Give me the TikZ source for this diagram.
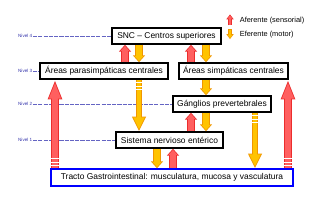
\documentclass[tikz,border=0pt]{standalone}
\usepackage{fontspec}
\setmainfont{Liberation Sans}
\usetikzlibrary{arrows.meta}
\definecolor{rojoF}{RGB}{255,95,95}
\definecolor{rojoL}{RGB}{235,45,45}
\definecolor{naraF}{RGB}{255,195,0}
\definecolor{naraL}{RGB}{240,150,0}
\definecolor{nivcol}{RGB}{50,50,170}
\definecolor{nivlin}{RGB}{100,100,195}

\tikzset{
  caja/.style={draw, line width=2pt, minimum height=0.8cm, inner sep=2pt, font=\fontsize{12}{14}\selectfont},
  nivel/.style={text=nivcol, font=\fontsize{6.5}{7}\selectfont, anchor=east, inner sep=1pt},
  nivlinea/.style={draw=nivlin, line width=0.8pt, dash pattern=on 6pt off 1.5pt},
  leyenda/.style={anchor=west, inner sep=1pt, font=\fontsize{10.5}{12}\selectfont},
  franja/.style={white, line width=0.9pt},
  % flechas de bloque: contorno (preaction) + relleno
  afs/.style={draw=rojoF, line width=7.8pt, -{Triangle[width=12.2pt,length=7.2pt]}, shorten >=1.7pt, shorten <=1.1pt,
    preaction={draw=rojoL, line width=10pt, -{Triangle[width=17pt,length=10pt]}, shorten >=0pt, shorten <=0pt}},
  efs/.style={draw=naraF, line width=7.8pt, -{Triangle[width=12.2pt,length=7.2pt]}, shorten >=1.7pt, shorten <=1.1pt,
    preaction={draw=naraL, line width=10pt, -{Triangle[width=17pt,length=10pt]}, shorten >=0pt, shorten <=0pt}},
  afl/.style={draw=rojoF, line width=7.8pt, -{Triangle[width=15.5pt,length=23.4pt]}, shorten >=3.5pt, shorten <=1.1pt,
    preaction={draw=rojoL, line width=10pt, -{Triangle[width=18.5pt,length=28pt]}, shorten >=0pt, shorten <=0pt}},
  efl/.style={draw=naraF, line width=6.3pt, -{Triangle[width=15.1pt,length=17.2pt]}, shorten >=2.7pt, shorten <=1.1pt,
    preaction={draw=naraL, line width=8.5pt, -{Triangle[width=18.5pt,length=21pt]}, shorten >=0pt, shorten <=0pt}},
  afx/.style={draw=rojoF, line width=4.2pt, -{Triangle[width=6.5pt,length=4.5pt]}, shorten >=1.5pt, shorten <=0.9pt,
    preaction={draw=rojoL, line width=6pt, -{Triangle[width=10pt,length=7pt]}, shorten >=0pt, shorten <=0pt}},
  efx/.style={draw=naraF, line width=4.2pt, -{Triangle[width=6.5pt,length=4.5pt]}, shorten >=1.5pt, shorten <=0.9pt,
    preaction={draw=naraL, line width=6pt, -{Triangle[width=10pt,length=7pt]}, shorten >=0pt, shorten <=0pt}},
}

\begin{document}
\begin{tikzpicture}
\useasboundingbox (0,0) rectangle (16,10);
% --- cajas ---
\node[caja, minimum width=5.45cm] (snc) at (8.325,8.2) {SNC -- Centros superiores};
\node[caja, minimum width=6.4cm] (para) at (5.2,6.45) {Áreas parasimpáticas centrales};
\node[caja, minimum width=5.45cm] (simp) at (11.675,6.45) {Áreas simpáticas centrales};
\node[caja, minimum width=4.9cm] (gang) at (11.1,4.8) {Gánglios prevertebrales};
\node[caja, minimum width=5.35cm] (ent) at (8.475,3.0) {Sistema nervioso entérico};
\node[caja, draw=blue, minimum width=12.1cm, minimum height=0.85cm] (tracto) at (8.6,1.125) {Tracto Gastrointestinal: musculatura, mucosa y vasculatura};
% --- niveles ---
\node[nivel] (n4) at (1.65,8.2) {Nivel 4};
\node[nivel] (n3) at (1.65,6.45) {Nivel 3};
\node[nivel] (n2) at (1.65,4.8) {Nivel 2};
\node[nivel] (n1) at (1.65,3.0) {Nivel 1};
\draw[nivlinea] (n4.east) -- (snc.west);
\draw[nivlinea] (n3.east) -- (para.west);
\draw[nivlinea] (n2.east) -- (gang.west);
\draw[nivlinea] (n1.east) -- (ent.west);
% --- leyenda ---
\node[leyenda] (la) at (11.95,8.95) {Aferente (sensorial)};
\node[leyenda] (le) at (11.95,8.275) {Eferente (motor)};
\draw[afx] ([shift={(-0.45,-0.22)}]la.west) -- ++(0,0.55);
\draw[efx] ([shift={(-0.45,0.27)}]le.west) -- ++(0,-0.5);
% --- columnas de flechas ---
\coordinate (xa) at (2.75,0);
\coordinate (xb) at (6.25,0);
\coordinate (xc) at (6.95,0);
\coordinate (xd) at (7.85,0);
\coordinate (xe) at (8.65,0);
\coordinate (xf) at (9.55,0);
\coordinate (xg) at (10.3,0);
\coordinate (xh) at (12.75,0);
\coordinate (xi) at (14.4,0);
\path (tracto.north -| xa) coordinate (ta) (tracto.north -| xi) coordinate (ti)
      (para.south -| xc) coordinate (tc) (gang.south -| xh) coordinate (th);
% SNC <-> areas centrales
\draw[afs] (para.north -| xb) -- (snc.south -| xb);
\draw[efs] (snc.south -| xc) -- (para.north -| xc);
\draw[afs] (simp.north -| xf) -- (snc.south -| xf);
\draw[efs] (snc.south -| xg) -- (simp.north -| xg);
% via simpatica
\draw[efs] (simp.south -| xg) -- (gang.north -| xg);
\draw[afs] (ent.north -| xf) -- (gang.south -| xf);
\draw[efs] (gang.south -| xg) -- (ent.north -| xg);
% enterico <-> tracto
\draw[efs] (ent.south -| xd) -- (tracto.north -| xd);
\draw[afs] (tracto.north -| xe) -- (ent.south -| xe);
% flechas largas
\draw[afl] (ta) -- (para.south -| xa);
\draw[afl] (ti) -- (simp.south -| xi);
\draw[efl] (tc) -- (ent.north -| xc);
\draw[efl] (th) -- (tracto.north -| xh);
\foreach \c in {ta,ti}
  \foreach \d in {4pt,9pt,14pt}
    \draw[franja] ([shift={(-6pt,\d)}]\c) -- ++(12pt,0);
\foreach \c in {tc,th}
  \foreach \d in {4pt,9pt,14pt}
    \draw[franja] ([shift={(-6pt,-\d)}]\c) -- ++(12pt,0);
\end{tikzpicture}
\end{document}
